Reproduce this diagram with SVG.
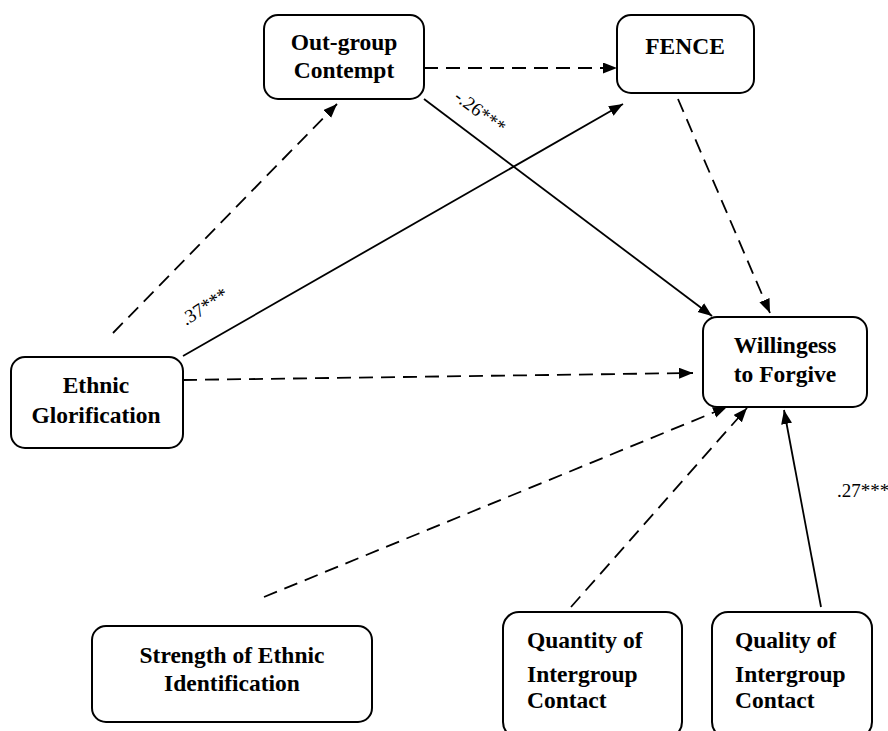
<svg xmlns="http://www.w3.org/2000/svg" width="888" height="731" viewBox="0 0 888 731">
  <style>
    .box { fill: #ffffff; stroke: #000000; stroke-width: 2; }
    .lbl { font-family: "Liberation Serif", "Times New Roman", serif; font-weight: bold; font-size: 23.5px; fill: #000000; }
    .mid { text-anchor: middle; }
    .coef { font-family: "Liberation Serif", "Times New Roman", serif; font-size: 19px; fill: #000000; }
    .solid { fill: none; stroke: #000000; stroke-width: 1.8; }
    .dash { fill: none; stroke: #000000; stroke-width: 1.8; stroke-dasharray: 14 8; }
  </style>
  <defs>
    <marker id="arrow" markerUnits="userSpaceOnUse" markerWidth="16" markerHeight="12" refX="14" refY="5.5" orient="auto">
      <path d="M0,0 L14,5.5 L0,11 Z" fill="#000000"/>
    </marker>
  </defs>
  <rect width="888" height="731" fill="#ffffff"/>

  <g id="connectors">
    <line class="dash" x1="113" y1="333" x2="337" y2="104" marker-end="url(#arrow)"/>
    <line class="dash" x1="424" y1="68" x2="617" y2="68" marker-end="url(#arrow)"/>
    <line class="solid" x1="183" y1="356" x2="623" y2="104" marker-end="url(#arrow)"/>
    <line class="solid" x1="424" y1="99" x2="712" y2="316" marker-end="url(#arrow)"/>
    <line class="dash" x1="678" y1="99" x2="770" y2="313" marker-end="url(#arrow)"/>
    <line class="dash" x1="183" y1="380" x2="693" y2="373" marker-end="url(#arrow)"/>
    <line class="dash" x1="264" y1="597" x2="727" y2="407" marker-end="url(#arrow)"/>
    <line class="dash" x1="571" y1="607" x2="747" y2="408" marker-end="url(#arrow)"/>
    <line class="solid" x1="821" y1="607" x2="784" y2="410" marker-end="url(#arrow)"/>
    <text class="coef" transform="translate(453,99) rotate(37)">-.26***</text>
    <text class="coef" transform="translate(186,326) rotate(-33)">.37***</text>
    <text class="coef" x="837" y="497">.27***</text>
  </g>

  <g id="outgroup-contempt">
    <rect class="box" x="264" y="15" width="160" height="84" rx="14"/>
    <text class="lbl mid" x="344" y="50">Out-group</text>
    <text class="lbl mid" x="344" y="78">Contempt</text>
  </g>

  <g id="fence">
    <rect class="box" x="617" y="15" width="137" height="78" rx="14"/>
    <text class="lbl mid" x="685" y="54">FENCE</text>
  </g>

  <g id="ethnic-glorification">
    <rect class="box" x="11" y="357" width="172" height="91" rx="14"/>
    <text class="lbl mid" x="96" y="393">Ethnic</text>
    <text class="lbl mid" x="96" y="423">Glorification</text>
  </g>

  <g id="willingness-to-forgive">
    <rect class="box" x="703" y="317" width="164" height="90" rx="14"/>
    <text class="lbl mid" x="785" y="353">Willingess</text>
    <text class="lbl mid" x="785" y="382">to Forgive</text>
  </g>

  <g id="strength-of-ethnic-identification">
    <rect class="box" x="92" y="626" width="280" height="96" rx="14"/>
    <text class="lbl mid" x="232" y="663">Strength of Ethnic</text>
    <text class="lbl mid" x="232" y="691">Identification</text>
  </g>

  <g id="quantity-of-intergroup-contact">
    <rect class="box" x="503" y="612" width="179" height="126" rx="16"/>
    <text class="lbl" x="527" y="648">Quantity of</text>
    <text class="lbl" x="527" y="682">Intergroup</text>
    <text class="lbl" x="527" y="708">Contact</text>
  </g>

  <g id="quality-of-intergroup-contact">
    <rect class="box" x="712" y="612" width="160" height="126" rx="16"/>
    <text class="lbl" x="735" y="648">Quality of</text>
    <text class="lbl" x="735" y="682">Intergroup</text>
    <text class="lbl" x="735" y="708">Contact</text>
  </g>
</svg>
